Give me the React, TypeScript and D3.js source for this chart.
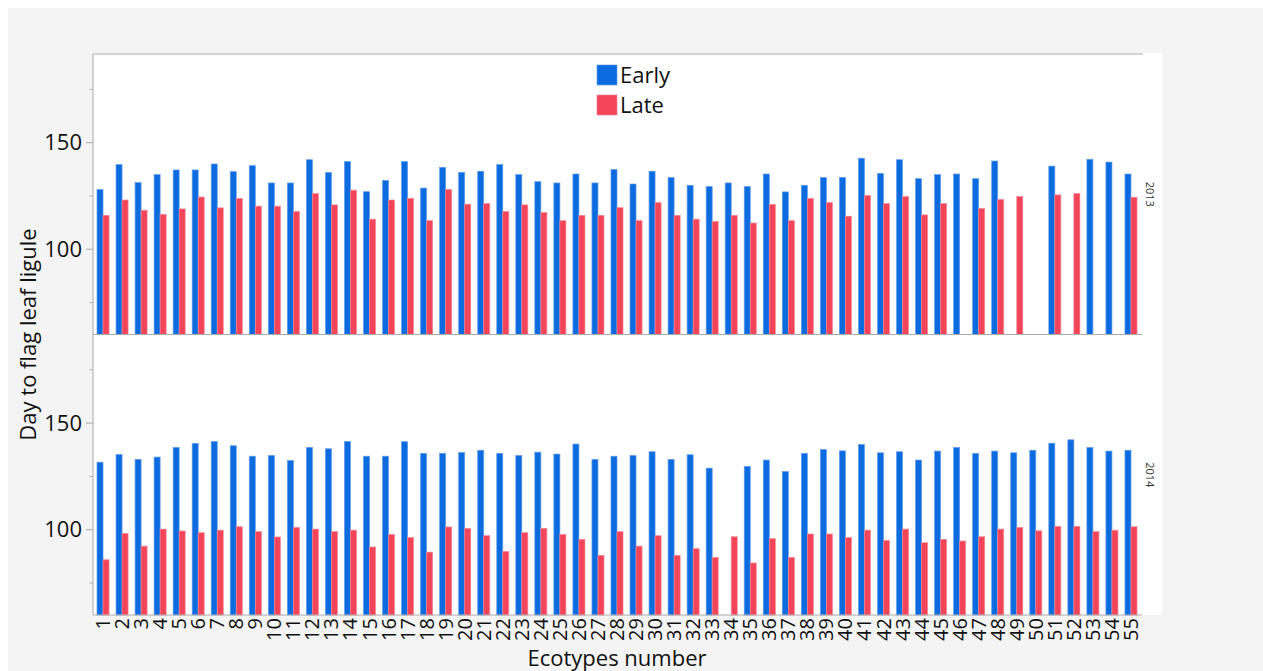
import React from "react";
import * as d3 from "d3";

// ecotype numbers 1..55
const ecotypes: string[] = [
  "1","2","3","4","5","6","7","8","9","10","11","12","13","14","15","16","17","18","19","20",
  "21","22","23","24","25","26","27","28","29","30","31","32","33","34","35","36","37","38","39","40",
  "41","42","43","44","45","46","47","48","49","50","51","52","53","54","55",
];

const series = ["Early", "Late"];
const years = ["2013", "2014"];

const early2013: (number | null)[] = [
  128, 139.7, 131.3, 135, 137.2, 137.2, 140, 136.4, 139.2, 131.1,
  131.1, 142, 136, 141.1, 127, 132.3, 141.1, 128.7, 138.4, 136.1,
  136.6, 139.7, 135, 131.7, 131.1, 135.3, 131.1, 137.4, 130.6, 136.6,
  133.6, 130, 129.4, 131.1, 129.4, 135.3, 126.9, 130, 133.6, 133.7,
  142.7, 135.6, 142, 133.1, 135, 135.3, 133.1, 141.4, null, null,
  139, null, 142.2, 140.9, 135.3,
];
const late2013: (number | null)[] = [
  115.9, 123.1, 118.3, 116.4, 118.9, 124.5, 119.4, 123.8, 120.2, 120.2,
  117.7, 126.1, 120.8, 127.7, 114.1, 123.1, 123.9, 113.4, 128, 121.1,
  121.4, 117.7, 120.8, 117.2, 113.4, 115.9, 115.9, 119.5, 113.4, 121.9,
  115.9, 114.1, 113, 115.9, 112.3, 121, 113.4, 123.8, 121.9, 115.5,
  125.2, 121.4, 124.7, 116.1, 121.4, null, 119.1, 123.3, 124.7, null,
  125.5, 126.1, null, null, 124.4,
];
const early2014: (number | null)[] = [
  131.7, 135.3, 133, 134.1, 138.6, 140.5, 141.4, 139.4, 134.5, 134.8,
  132.5, 138.6, 138, 141.4, 134.5, 134.5, 141.3, 135.8, 135.8, 136.2,
  137.3, 135.8, 134.8, 136.4, 135.5, 140.2, 133, 134.5, 134.8, 136.6,
  133, 135.2, 128.9, null, 129.7, 132.7, 127.3, 135.8, 137.6, 137,
  140, 136.1, 136.6, 132.7, 136.9, 138.6, 135.8, 136.9, 136.1, 137.3,
  140.6, 142.2, 138.6, 136.9, 137.3,
];
const late2014: (number | null)[] = [
  85.9, 98.3, 92.3, 100.3, 99.4, 98.6, 99.8, 101.4, 99.1, 96.6,
  101.1, 100.3, 99.1, 99.8, 91.9, 97.8, 96.3, 89.5, 101.3, 100.6,
  97.2, 89.8, 98.6, 100.6, 97.8, 95.5, 88, 99.1, 92.3, 97.2,
  88, 91.1, 87, 96.7, 84.4, 95.8, 87, 98, 98, 96.3,
  99.8, 95, 100.3, 93.9, 95.5, 94.7, 96.7, 100.3, 101.1, 99.5,
  101.6, 101.6, 99.1, 99.8, 101.4,
];

const majorTicks = [100, 150];
const minorTicks = [75, 125, 175];

const panelData: Record<string, (number | null)[][]> = {
  "2013": [early2013, late2013],
  "2014": [early2014, late2014],
};

const fillColors: Record<string, string> = { Early: "#0d6be0", Late: "#f2455a" };
const edgeColors: Record<string, string> = { Early: "#5e9cec", Late: "#f78592" };

const FONT = "'Segoe UI', 'Open Sans', 'Noto Sans', sans-serif";

export default function App() {
  const W = 1263;
  const H = 671;
  const left = 93;
  const plotRight = 1142;
  const top = 54;
  const bottom = 615;
  const panelH = (bottom - top) / years.length;
  const axisColor = "#ababab";

  const x0 = d3.scaleBand<string>().domain(ecotypes).range([93.5, 1140.5]).padding(0);
  const x1 = d3
    .scaleBand<string>()
    .domain(series)
    .range([0, x0.bandwidth()])
    .paddingInner(0)
    .paddingOuter(0.58);
  const y = d3.scaleLinear().domain([60, 191.6]).range([panelH, 0]);

  return (
    <svg
      width={W}
      height={H}
      style={{ position: "absolute", left: 0, top: 0, fontFamily: FONT }}
    >
      <rect x={8} y={8} width={W - 8} height={H - 8} fill="#f4f4f4" />
      <rect x={left} y={top - 1} width={1162 - left} height={bottom - top + 1} fill="#fff" />

      {years.map((yr, pi) => {
        const py = top + pi * panelH;
        const data = panelData[yr];
        return (
          <g key={yr} transform={`translate(0,${py})`}>
            {series.map((s, si) =>
              data[si].map((v, i) =>
                v == null ? null : (
                  <rect
                    key={`${s}-${i}`}
                    x={(x0(ecotypes[i]) as number) + (x1(s) as number)}
                    y={y(v)}
                    width={x1.bandwidth()}
                    height={panelH - y(v)}
                    fill={fillColors[s]}
                    stroke={edgeColors[s]}
                    strokeWidth={0.7}
                  />
                )
              )
            )}
            {majorTicks.map((t) => (
              <g key={t}>
                <line x1={left - 7} x2={left} y1={y(t)} y2={y(t)} stroke={axisColor} />
                <text x={left - 11} y={y(t)} dy="0.35em" textAnchor="end" fontSize={22} fill="#111">
                  {t}
                </text>
              </g>
            ))}
            {minorTicks.map((t) => (
              <line key={t} x1={left - 3.5} x2={left} y1={y(t)} y2={y(t)} stroke={axisColor} />
            ))}
            <text
              transform={`translate(1150,${panelH / 2}) rotate(90)`}
              textAnchor="middle"
              dy="0.35em"
              fontSize={11}
              fill="#333"
            >
              {yr}
            </text>
            <line x1={left} x2={plotRight} y1={panelH} y2={panelH} stroke={axisColor} />
          </g>
        );
      })}

      <line x1={left} x2={1143} y1={top} y2={top} stroke={axisColor} />
      <line x1={left} x2={left} y1={top} y2={bottom} stroke={axisColor} />

      {ecotypes.map((c) => (
        <text
          key={c}
          transform={`translate(${(x0(c) as number) + x0.bandwidth() / 2},${bottom + 3}) rotate(-90)`}
          textAnchor="end"
          dy="0.35em"
          fontSize={20}
          fill="#111"
        >
          {c}
        </text>
      ))}

      <text x={617} y={666} textAnchor="middle" fontSize={22} fill="#111">
        Ecotypes number
      </text>
      <text
        transform={`translate(36,${(top + bottom) / 2}) rotate(-90)`}
        textAnchor="middle"
        fontSize={22}
        fill="#111"
      >
        Day to flag leaf ligule
      </text>

      {series.map((s, i) => (
        <g key={s} transform={`translate(597,${65 + i * 30})`}>
          <rect width={20} height={20} fill={fillColors[s]} stroke={edgeColors[s]} strokeWidth={0.7} />
          <text x={23} y={10} dy="0.38em" fontSize={22} fill="#111">
            {s}
          </text>
        </g>
      ))}
    </svg>
  );
}
